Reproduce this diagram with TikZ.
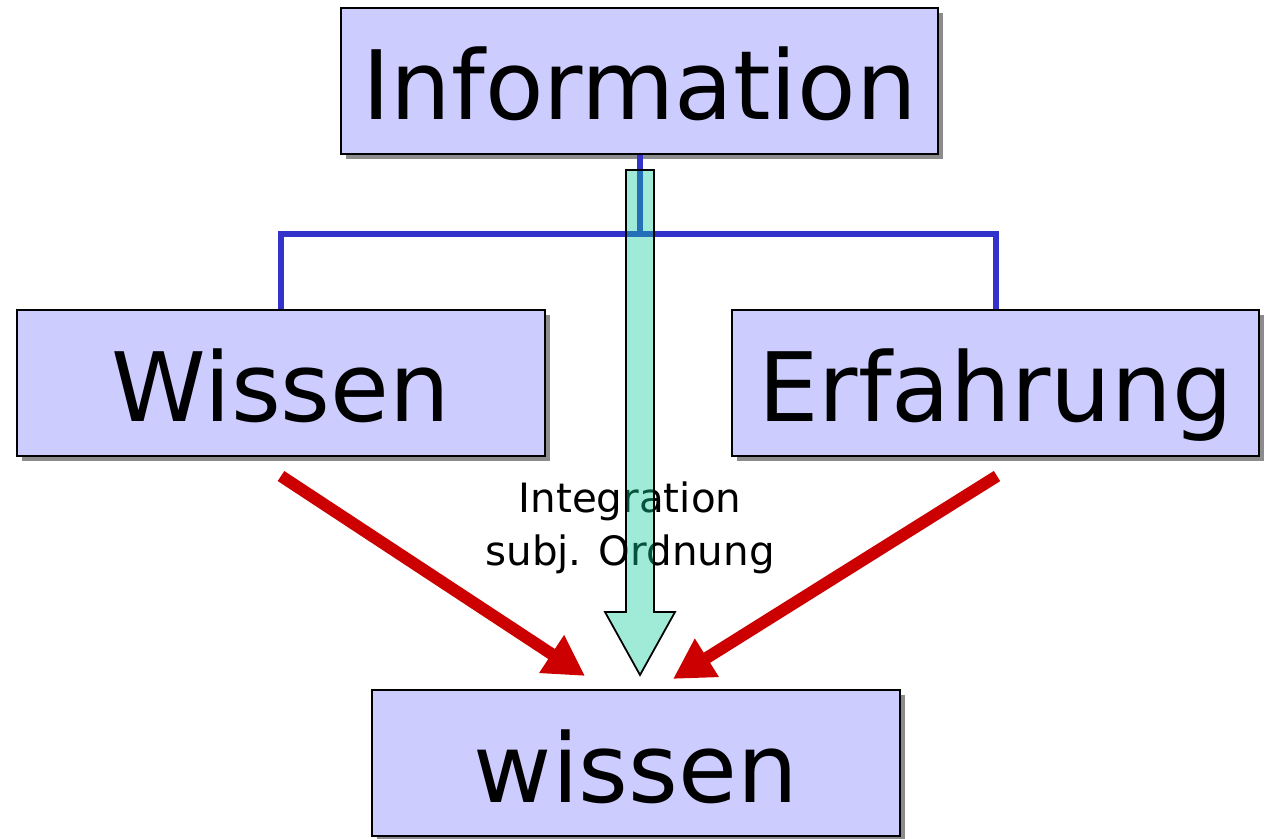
\documentclass[tikz,border=0pt]{standalone}
\usepackage{fontspec}
\setmainfont{DejaVu Sans}
\usepackage{xcolor}
\usetikzlibrary{arrows.meta}
\usetikzlibrary{calc}
\usetikzlibrary{positioning}
\usetikzlibrary{shadows}
\definecolor{boxfill}{RGB}{204,204,255}
\definecolor{treeblue}{RGB}{51,51,204}
\definecolor{flowred}{RGB}{204,0,0}
\definecolor{arrowgreen}{RGB}{15,205,155}

\begin{document}
\begin{tikzpicture}[x=0.02cm,y=-0.02cm,>={Triangle[length=0.8cm,width=0.85cm]}]
	\tikzstyle{box}=[draw, line width=1.2pt, fill=boxfill, minimum height=2.92cm, inner sep=0pt,
		font=\fontsize{54.5}{60}\selectfont, text height=1.56cm, text depth=0pt,
		drop shadow={shadow xshift=0.1cm, shadow yshift=-0.1cm, opacity=1, fill=black!45}]
	\tikzstyle{tree}=[draw=treeblue, line width=0.12cm]
	\tikzstyle{flow}=[draw=flowred, line width=0.24cm, ->]
	\useasboundingbox (0,0) rectangle (1267,838);
	\node[box, minimum width=11.94cm] (info) at (639.5,81)  {Information};
	\node[box, minimum width=10.56cm] (wis)  at (281,383)   {Wissen};
	\node[box, minimum width=10.54cm] (erf)  at (995.5,383) {Erfahrung};
	\node[box, minimum width=10.56cm] (res)  at (636,763)   {wissen};
	% tree
	\draw[tree] (info.south) -- ++(0,79) coordinate (fork) -| (wis.north);
	\draw[tree] (fork) -| (erf.north);
	% red arrows
	\coordinate (wisfoot) at ($(wis.south)+(0,19)$);
	\coordinate (erffoot) at ($(erf.south)+(1.5,19)$);
	\coordinate (resleft) at ($(res.north)+(-51,-13)$);
	\coordinate (resright) at ($(res.north)+(37,-10)$);
	\draw[flow] (wisfoot) -- (resleft);
	\draw[flow] (erffoot) -- (resright);
	\node[font=\fontsize{23}{30}\selectfont, align=center] (lbl) at (630,528) {Integration\\subj. Ordnung};
	% integration arrow
	\draw[line width=1pt, fill=arrowgreen, fill opacity=0.4]
		(626,170) -- (654,170) -- (654,612) -- (675,612) -- (640,675) -- (605,612) -- (626,612) -- cycle;
\end{tikzpicture}
\end{document}
